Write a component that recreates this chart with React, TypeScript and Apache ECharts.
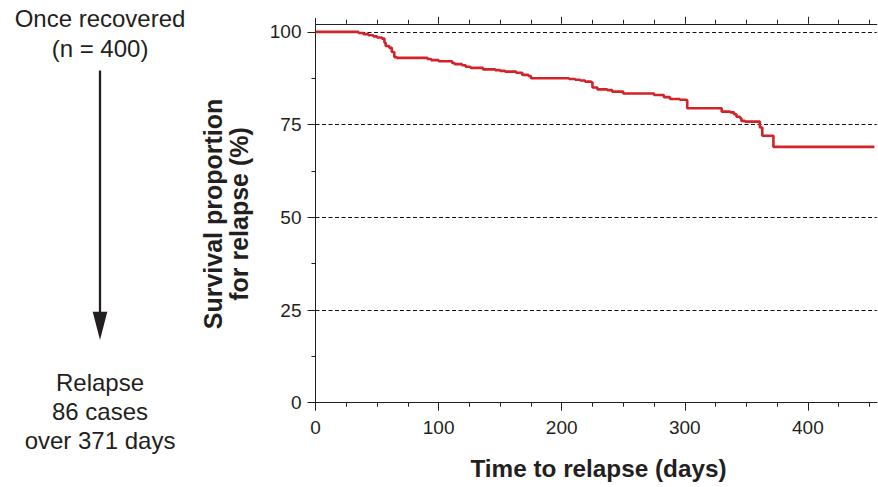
import React, { useEffect, useRef } from 'react';
import * as echarts from 'echarts';

// Kaplan–Meier style step data: survival (%) changes at each listed day
const days = [0, 35, 39, 43, 47, 50, 54, 56, 57, 60, 62, 64, 66, 91, 94, 100, 111, 113, 119, 122, 126, 136, 146, 150, 154, 163, 168, 173, 175, 206, 211, 215, 219, 224, 225, 229, 237, 241, 250, 275, 283, 288, 296, 300, 302, 330, 337, 340, 342, 345, 346, 349, 361, 363, 372, 454];
const survival = [100, 99.7, 99.4, 99.1, 98.8, 98.5, 98.2, 97.1, 96.2, 95.7, 94.6, 93.2, 93.0, 92.7, 92.4, 92.1, 91.6, 91.3, 91.0, 90.6, 90.3, 89.9, 89.7, 89.5, 89.3, 89.0, 88.4, 88.1, 87.5, 87.3, 87.1, 86.9, 86.6, 86.4, 85.0, 84.5, 84.3, 83.9, 83.4, 83.0, 82.4, 81.9, 81.7, 81.6, 79.4, 78.5, 78.3, 77.8, 77.1, 76.7, 76.0, 75.8, 74.2, 72.0, 69.0, 69.0];

const xMajorTicks = [0, 100, 200, 300, 400];
const xMinorTicks = [25, 50, 75, 125, 150, 175, 225, 250, 275, 325, 350, 375, 425, 450];
const yMajorTicks = [0, 25, 50, 75, 100];
const yMinorTicks = [12.5, 37.5, 62.5, 87.5];
const dashedLevels = [25, 50, 75, 100];

const xTitle = 'Time to relapse (days)';
const yTitle = 'Survival proportion\nfor relapse (%)';
const topText = 'Once recovered\n(n = 400)';
const bottomText = 'Relapse\n86 cases\nover 371 days';

const FONT = '"Liberation Sans", Arial, Helvetica, sans-serif';
const INK = '#231f20';
const RED = '#d2232a';

export default function App() {
  const ref = useRef<HTMLDivElement>(null);

  useEffect(() => {
    if (!ref.current) return;
    const chart = echarts.init(ref.current, undefined, { renderer: 'svg' });

    const baseX = {
      type: 'value' as const,
      min: 0,
      max: 456,
      interval: 25,
      splitLine: { show: false },
    };
    const baseY = {
      type: 'value' as const,
      min: 0,
      max: 103.67,
      interval: 25,
      splitLine: { show: false },
    };

    chart.setOption({
      animation: false,
      backgroundColor: '#ffffff',
      grid: { left: 315.5, right: 1.2, top: 18.3, bottom: 84.3, containLabel: false },
      xAxis: [
        {
          ...baseX,
          position: 'bottom',
          axisLine: { show: true, lineStyle: { color: INK, width: 1 } },
          axisTick: { show: true, customValues: xMajorTicks, length: 8, lineStyle: { color: INK } },
          axisLabel: { show: true, customValues: xMajorTicks, fontSize: 19, color: INK, fontFamily: FONT, margin: 15 },
        },
        {
          ...baseX,
          position: 'bottom',
          axisLine: { show: false },
          axisTick: { show: true, customValues: xMinorTicks, length: 4, lineStyle: { color: INK } },
          axisLabel: { show: false },
        },
        {
          ...baseX,
          position: 'top',
          offset: -5.5,
          axisLine: { show: true, lineStyle: { color: INK, width: 1 } },
          axisTick: { show: true, customValues: xMajorTicks.slice(1), length: 7, lineStyle: { color: INK } },
          axisLabel: { show: false },
        },
        {
          ...baseX,
          position: 'top',
          offset: -5.5,
          axisLine: { show: false },
          axisTick: { show: true, customValues: xMinorTicks, length: 4, lineStyle: { color: INK } },
          axisLabel: { show: false },
        },
      ],
      yAxis: [
        {
          ...baseY,
          position: 'left',
          axisLine: { show: true, lineStyle: { color: INK, width: 1 } },
          axisTick: { show: true, customValues: yMajorTicks, length: 8, lineStyle: { color: INK } },
          axisLabel: { show: true, customValues: yMajorTicks, fontSize: 19, color: INK, fontFamily: FONT, margin: 14 },
        },
        {
          ...baseY,
          position: 'left',
          axisLine: { show: false },
          axisTick: { show: true, customValues: yMinorTicks, length: 4, lineStyle: { color: INK } },
          axisLabel: { show: false },
        },
      ],
      series: [
        {
          type: 'line',
          xAxisIndex: 0,
          yAxisIndex: 0,
          data: [],
          z: 1,
          silent: true,
          markLine: {
            silent: true,
            symbol: ['none', 'none'],
            label: { show: false },
            lineStyle: { color: '#111', width: 1, type: [4, 2.5] },
            data: dashedLevels.map((v) => ({ yAxis: v })),
          },
        },
        {
          type: 'line',
          xAxisIndex: 0,
          yAxisIndex: 0,
          step: 'end',
          showSymbol: false,
          symbol: 'none',
          z: 5,
          lineStyle: { color: RED, width: 2.6 },
          data: days.map((d, i) => [d, survival[i]]),
        },
      ],
      graphic: [
        {
          type: 'text',
          x: 598.5,
          y: 468,
          style: {
            text: xTitle,
            fontSize: 24.3,
            fontWeight: 'bold',
            fontFamily: FONT,
            fill: INK,
            align: 'center',
            verticalAlign: 'middle',
            textAlign: 'center',
            textVerticalAlign: 'middle',
          },
        },
        {
          type: 'text',
          x: 225.5,
          y: 214,
          rotation: Math.PI / 2,
          style: {
            text: yTitle,
            fontSize: 25,
            fontWeight: 'bold',
            fontFamily: FONT,
            fill: INK,
            lineHeight: 26,
            align: 'center',
            verticalAlign: 'middle',
            textAlign: 'center',
            textVerticalAlign: 'middle',
          },
        },
        {
          type: 'text',
          x: 100,
          y: 33,
          style: {
            text: topText,
            fontSize: 24,
            fontFamily: FONT,
            fill: INK,
            lineHeight: 30,
            align: 'center',
            verticalAlign: 'middle',
            textAlign: 'center',
            textVerticalAlign: 'middle',
          },
        },
        {
          type: 'text',
          x: 100,
          y: 411,
          style: {
            text: bottomText,
            fontSize: 24,
            fontFamily: FONT,
            fill: INK,
            lineHeight: 29,
            align: 'center',
            verticalAlign: 'middle',
            textAlign: 'center',
            textVerticalAlign: 'middle',
          },
        },
        {
          type: 'line',
          shape: { x1: 100, y1: 70.5, x2: 100, y2: 313 },
          style: { stroke: INK, lineWidth: 2.3 },
        },
        {
          type: 'polygon',
          shape: { points: [[92.7, 311.7], [107.3, 311.7], [100, 340]] },
          style: { fill: INK },
        },
      ],
    });

    return () => chart.dispose();
  }, []);

  return (
    <div
      ref={ref}
      style={{ position: 'fixed', left: 0, top: 0, width: 878, height: 487, background: '#fff' }}
    />
  );
}
